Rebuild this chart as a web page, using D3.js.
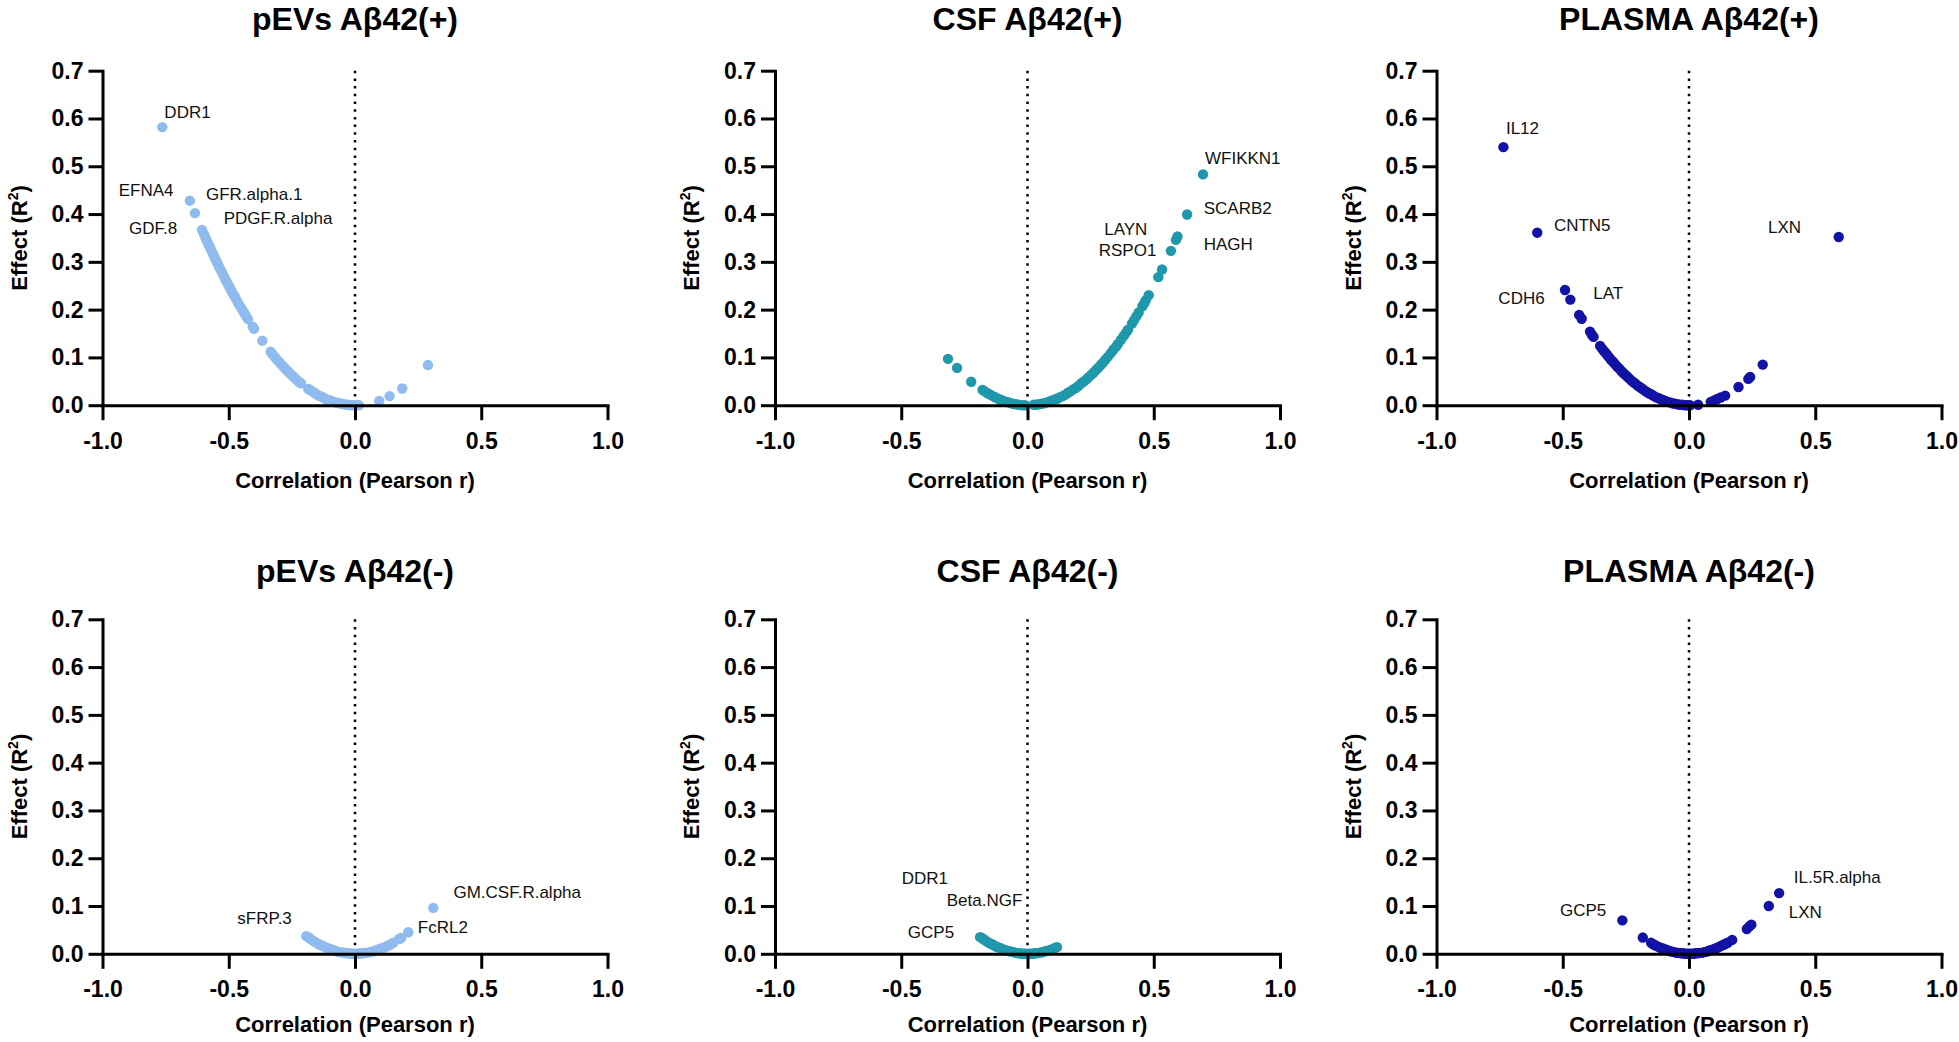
<!DOCTYPE html>
<html>
<head>
<meta charset="utf-8">
<script src="https://cdn.jsdelivr.net/npm/d3@7"></script>
<style>
  html, body { margin: 0; padding: 0; background: #fff; }
  svg { display: block; }
</style>
</head>
<body>
<svg id="chart" width="1959" height="1042"></svg>
<script>
// ---------------- DATA ----------------
const panelTitles = ["pEVs Aβ42(+)", "CSF Aβ42(+)", "PLASMA Aβ42(+)",
                     "pEVs Aβ42(-)", "CSF Aβ42(-)", "PLASMA Aβ42(-)"];
const xTicks = [-1.0, -0.5, 0.0, 0.5, 1.0];
const yTicks = [0.0, 0.1, 0.2, 0.3, 0.4, 0.5, 0.6, 0.7];
const xAxisTitle = "Correlation (Pearson r)";
const yAxisTitle = "Effect (R";

// [Pearson r, R²]
const pevsPos = [
  [-0.763,0.582],[-0.654,0.428],[-0.634,0.402],[-0.606,0.367],[-0.598,0.358],[-0.592,0.350],
  [-0.586,0.343],[-0.580,0.336],[-0.575,0.331],[-0.569,0.324],[-0.563,0.317],[-0.556,0.309],
  [-0.550,0.303],[-0.545,0.297],[-0.538,0.289],[-0.531,0.282],[-0.524,0.275],[-0.517,0.267],
  [-0.510,0.260],[-0.503,0.253],[-0.497,0.247],[-0.490,0.240],[-0.483,0.233],[-0.476,0.227],
  [-0.469,0.220],[-0.462,0.213],[-0.455,0.207],[-0.447,0.200],[-0.440,0.194],[-0.432,0.187],
  [-0.424,0.180],[-0.405,0.164],[-0.400,0.160],[-0.367,0.135],[-0.334,0.112],[-0.327,0.107],
  [-0.318,0.101],[-0.310,0.096],[-0.301,0.091],[-0.293,0.086],[-0.284,0.081],[-0.275,0.076],
  [-0.266,0.071],[-0.257,0.066],[-0.248,0.062],[-0.240,0.058],[-0.231,0.053],[-0.222,0.049],
  [-0.214,0.046],[-0.185,0.034],[-0.178,0.032],[-0.170,0.029],[-0.161,0.026],[-0.152,0.023],
  [-0.143,0.020],[-0.134,0.018],[-0.125,0.016],[-0.116,0.013],[-0.107,0.011],[-0.098,0.010],
  [-0.089,0.008],[-0.080,0.006],[-0.071,0.005],[-0.062,0.004],[-0.053,0.003],[-0.044,0.002],
  [-0.035,0.001],[-0.026,0.001],[-0.017,0.000],[-0.008,0.000],[0.005,0.000],[0.015,0.000],
  [0.096,0.009],[0.137,0.019],[0.187,0.035],[0.289,0.084]
];
const csfPos = [
  [-0.315,0.097],[-0.279,0.078],[-0.223,0.049],[-0.178,0.032],[-0.170,0.029],[-0.158,0.025],
  [-0.147,0.022],[-0.137,0.019],[-0.126,0.016],[-0.114,0.013],[-0.103,0.011],[-0.092,0.008],
  [-0.081,0.007],[-0.070,0.005],[-0.058,0.003],[-0.046,0.002],[-0.035,0.001],[-0.022,0.000],
  [-0.010,0.000],[0.025,0.001],[0.034,0.001],[0.045,0.002],[0.056,0.003],[0.066,0.004],
  [0.077,0.006],[0.088,0.008],[0.098,0.010],[0.108,0.012],[0.119,0.014],[0.129,0.017],
  [0.139,0.019],[0.150,0.022],[0.160,0.026],[0.170,0.029],[0.181,0.033],[0.191,0.036],
  [0.201,0.040],[0.211,0.045],[0.221,0.049],[0.231,0.053],[0.241,0.058],[0.251,0.063],
  [0.261,0.068],[0.270,0.073],[0.280,0.078],[0.290,0.084],[0.299,0.089],[0.308,0.095],
  [0.318,0.101],[0.330,0.109],[0.340,0.116],[0.350,0.122],[0.358,0.128],[0.370,0.137],
  [0.381,0.145],[0.390,0.152],[0.398,0.158],[0.414,0.171],[0.422,0.178],[0.431,0.186],
  [0.440,0.194],[0.455,0.207],[0.462,0.213],[0.468,0.219],[0.480,0.230],[0.518,0.268],
  [0.533,0.284],[0.568,0.323],[0.588,0.346],[0.594,0.353],[0.632,0.399],[0.695,0.483]
];
const plasmaPos = [
  [-0.735,0.540],[-0.601,0.361],[0.593,0.352],[-0.491,0.241],[-0.470,0.221],[-0.435,0.189],
  [-0.425,0.181],[-0.392,0.154],[-0.384,0.147],[-0.378,0.143],[-0.352,0.124],[-0.345,0.119],
  [-0.338,0.114],[-0.331,0.110],[-0.324,0.105],[-0.316,0.100],[-0.309,0.095],[-0.301,0.091],
  [-0.293,0.086],[-0.285,0.081],[-0.277,0.077],[-0.269,0.072],[-0.261,0.068],[-0.253,0.064],
  [-0.245,0.060],[-0.237,0.056],[-0.229,0.052],[-0.220,0.048],[-0.212,0.045],[-0.203,0.041],
  [-0.195,0.038],[-0.186,0.035],[-0.177,0.031],[-0.168,0.028],[-0.159,0.025],[-0.150,0.023],
  [-0.141,0.020],[-0.132,0.017],[-0.122,0.015],[-0.113,0.013],[-0.104,0.011],[-0.094,0.009],
  [-0.085,0.007],[-0.075,0.006],[-0.066,0.004],[-0.056,0.003],[-0.046,0.002],[-0.036,0.001],
  [-0.026,0.001],[-0.016,0.000],[-0.006,0.000],[0.004,0.000],[0.036,0.001],[0.086,0.007],
  [0.100,0.010],[0.112,0.013],[0.125,0.016],[0.143,0.020],[0.196,0.038],[0.235,0.055],
  [0.242,0.059],[0.292,0.085]
];
const pevsNeg = [
  [-0.193,0.037],[-0.186,0.035],[-0.178,0.032],[-0.171,0.029],[-0.162,0.026],[-0.155,0.024],
  [-0.146,0.021],[-0.139,0.019],[-0.130,0.017],[-0.121,0.015],[-0.114,0.013],[-0.105,0.011],
  [-0.098,0.010],[-0.089,0.008],[-0.082,0.007],[-0.073,0.005],[-0.066,0.004],[-0.057,0.003],
  [-0.050,0.003],[-0.041,0.002],[-0.034,0.001],[-0.025,0.001],[-0.018,0.000],[-0.009,0.000],
  [-0.002,0.000],[0.007,0.000],[0.014,0.000],[0.023,0.001],[0.030,0.001],[0.039,0.002],
  [0.046,0.002],[0.055,0.003],[0.062,0.004],[0.071,0.005],[0.078,0.006],[0.087,0.008],
  [0.094,0.009],[0.103,0.011],[0.110,0.012],[0.119,0.014],[0.126,0.016],[0.135,0.018],
  [0.142,0.020],[0.151,0.023],[0.175,0.031],[0.183,0.033],[0.211,0.045],[0.310,0.096]
];
const csfNeg = [
  [-0.188,0.035],[-0.181,0.033],[-0.172,0.030],[-0.165,0.027],[-0.156,0.024],[-0.149,0.022],
  [-0.140,0.020],[-0.133,0.018],[-0.124,0.015],[-0.117,0.014],[-0.108,0.012],[-0.101,0.010],
  [-0.092,0.008],[-0.085,0.007],[-0.076,0.006],[-0.069,0.005],[-0.060,0.004],[-0.053,0.003],
  [-0.044,0.002],[-0.037,0.001],[-0.028,0.001],[-0.021,0.000],[-0.012,0.000],[-0.005,0.000],
  [0.004,0.000],[0.011,0.000],[0.020,0.000],[0.027,0.001],[0.036,0.001],[0.043,0.002],
  [0.052,0.003],[0.059,0.003],[0.068,0.005],[0.075,0.006],[0.084,0.007],[0.091,0.008],
  [0.100,0.010],[0.108,0.012],[0.117,0.014]
];
const plasmaNeg = [
  [-0.264,0.070],[-0.183,0.034],[-0.150,0.023],[-0.142,0.020],[-0.134,0.018],[-0.127,0.016],
  [-0.119,0.014],[-0.111,0.012],[-0.103,0.011],[-0.095,0.009],[-0.087,0.008],[-0.079,0.006],
  [-0.071,0.005],[-0.063,0.004],[-0.055,0.003],[-0.047,0.002],[-0.039,0.002],[-0.031,0.001],
  [-0.023,0.001],[-0.015,0.000],[-0.007,0.000],[0.001,0.000],[0.009,0.000],[0.017,0.000],
  [0.025,0.001],[0.033,0.001],[0.041,0.002],[0.049,0.002],[0.057,0.003],[0.065,0.004],
  [0.073,0.005],[0.081,0.007],[0.089,0.008],[0.097,0.009],[0.105,0.011],[0.113,0.013],
  [0.121,0.015],[0.129,0.017],[0.137,0.019],[0.145,0.021],[0.153,0.023],[0.171,0.029],
  [0.229,0.052],[0.238,0.057],[0.247,0.061],[0.316,0.100],[0.357,0.127]
];

// labels: [text, r position, R² position] (left/baseline of the text)
const pevsPosLabels = [["DDR1",-0.755,0.601],["EFNA4",-0.936,0.437],["GFR.alpha.1",-0.590,0.429],
                       ["PDGF.R.alpha",-0.520,0.379],["GDF.8",-0.895,0.358]];
const csfPosLabels = [["WFIKKN1",0.703,0.505],["SCARB2",0.698,0.400],["HAGH",0.698,0.325],
                      ["LAYN",0.304,0.356],["RSPO1",0.282,0.312]];
const plasmaPosLabels = [["IL12",-0.725,0.567],["CNTN5",-0.535,0.365],["LXN",0.313,0.361],
                         ["CDH6",-0.755,0.212],["LAT",-0.379,0.222]];
const pevsNegLabels = [["GM.CSF.R.alpha",0.390,0.117],["FcRL2",0.249,0.044],["sFRP.3",-0.466,0.063]];
const csfNegLabels = [["DDR1",-0.498,0.147],["Beta.NGF",-0.320,0.100],["GCP5",-0.474,0.033]];
const plasmaNegLabels = [["IL.5R.alpha",0.415,0.148],["LXN",0.395,0.075],["GCP5",-0.511,0.079]];

const seriesColors = ["#8fbbee", "#1f98ab", "#1212a6"];

// ---------------- LAYOUT ----------------
const colX = [102.5, 775, 1436.5];
const rowY = [70.7, 619.3];
const axisW = 505, axisH = 334.5;
const titleBase = [30, 582];
const xTitleOff = [83, 78];
const FONT = "Arial, 'Liberation Sans', Helvetica, sans-serif";

const panels = [
  {title: panelTitles[0], data: pevsPos,   labels: pevsPosLabels,   color: seriesColors[0], col:0, row:0},
  {title: panelTitles[1], data: csfPos,    labels: csfPosLabels,    color: seriesColors[1], col:1, row:0},
  {title: panelTitles[2], data: plasmaPos, labels: plasmaPosLabels, color: seriesColors[2], col:2, row:0},
  {title: panelTitles[3], data: pevsNeg,   labels: pevsNegLabels,   color: seriesColors[0], col:0, row:1},
  {title: panelTitles[4], data: csfNeg,    labels: csfNegLabels,    color: seriesColors[1], col:1, row:1},
  {title: panelTitles[5], data: plasmaNeg, labels: plasmaNegLabels, color: seriesColors[2], col:2, row:1}
];

const svg = d3.select("#chart");
svg.append("rect").attr("width", 1959).attr("height", 1042).attr("fill", "#fff");

panels.forEach(p => {
  const x0 = colX[p.col], y0 = rowY[p.row];
  const x = d3.scaleLinear().domain([-1, 1]).range([x0, x0 + axisW]);
  const y = d3.scaleLinear().domain([0, 0.7]).range([y0 + axisH, y0]);
  const g = svg.append("g");

  // title
  g.append("text")
    .attr("x", x(0)).attr("y", titleBase[p.row])
    .attr("text-anchor", "middle")
    .attr("font-family", FONT).attr("font-weight", "bold").attr("font-size", 32)
    .attr("fill", "#000")
    .text(p.title);

  // dotted zero line
  g.append("line")
    .attr("x1", x(0)).attr("x2", x(0)).attr("y1", y(0.7)).attr("y2", y(0))
    .attr("stroke", "#000").attr("stroke-width", 2.5).attr("stroke-dasharray", "2.5,5.2");

  // points
  g.append("g").selectAll("circle").data(p.data).join("circle")
    .attr("cx", d => x(d[0])).attr("cy", d => y(d[1])).attr("r", 5.2)
    .attr("fill", p.color);

  // axes
  const xAxis = d3.axisBottom(x).tickValues(xTicks).tickSize(15).tickSizeOuter(0)
    .tickPadding(12).tickFormat(d => d.toFixed(1));
  const yAxis = d3.axisLeft(y).tickValues(yTicks).tickSize(14).tickSizeOuter(0)
    .tickPadding(5).tickFormat(d => d.toFixed(1));

  const gx = g.append("g").attr("transform", `translate(0,${y(0)})`).call(xAxis);
  const gy = g.append("g").attr("transform", `translate(${x(-1)},0)`).call(yAxis);
  [gx, gy].forEach(a => {
    a.select(".domain").attr("stroke", "#000").attr("stroke-width", 3).attr("stroke-linecap", "square");
    a.selectAll(".tick line").attr("stroke", "#000").attr("stroke-width", 3);
    a.selectAll(".tick text").attr("font-family", FONT).attr("font-weight", "bold")
      .attr("font-size", 23).attr("fill", "#000");
  });

  // axis titles
  g.append("text")
    .attr("x", x(0)).attr("y", y(0) + xTitleOff[p.row])
    .attr("text-anchor", "middle")
    .attr("font-family", FONT).attr("font-weight", "bold").attr("font-size", 22)
    .attr("fill", "#000")
    .text(xAxisTitle);

  const yt = g.append("text")
    .attr("transform", `translate(${x(-1) - 76},${(y(0) + y(0.7)) / 2}) rotate(-90)`)
    .attr("text-anchor", "middle")
    .attr("font-family", FONT).attr("font-weight", "bold").attr("font-size", 22)
    .attr("fill", "#000");
  yt.append("tspan").text(yAxisTitle);
  yt.append("tspan").attr("font-size", 14).attr("dy", -9).text("2");
  yt.append("tspan").attr("dy", 9).text(")");

  // point labels
  g.append("g").selectAll("text").data(p.labels).join("text")
    .attr("x", d => x(d[1])).attr("y", d => y(d[2]))
    .attr("font-family", FONT).attr("font-size", 17).attr("fill", "#111")
    .text(d => d[0]);
});
</script>
</body>
</html>
